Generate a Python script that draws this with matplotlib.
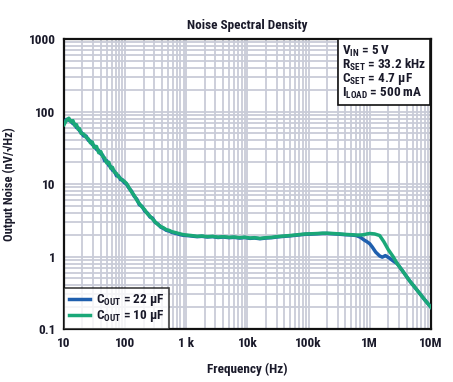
import matplotlib
matplotlib.use("Agg")
import matplotlib.pyplot as plt
import matplotlib.ticker as mticker
from matplotlib import font_manager

names = {f.name for f in font_manager.fontManager.ttflist}
narrow = [n for n in ["Liberation Sans Narrow", "DejaVu Sans Condensed", "Roboto Condensed"] if n in names]
FAM = narrow + ["Roboto", "DejaVu Sans"]
plt.rcParams["font.family"] = FAM
plt.rcParams["font.stretch"] = "condensed"
plt.rcParams["mathtext.fontset"] = "custom"
plt.rcParams["mathtext.rm"] = FAM[0] + ":bold"

# ── data ─────────────────────────────────────────────────────────
freq = [10, 11, 12, 13, 14, 15, 16, 17, 18, 19, 21, 23, 25, 27, 29, 31, 34,
        37, 40, 43, 46, 50, 54, 58, 62, 67, 72, 78, 84, 90, 96, 105, 115,
        127, 140, 155, 170, 190, 210, 230, 255, 280, 310, 345, 380, 420, 470,
        520, 580, 650, 720, 800, 900, 1000, 1200, 1500, 1800, 2200, 2700,
        3300, 4000, 5000, 6000, 7500, 9000, 11000, 13000, 16000, 20000, 25000,
        30000, 40000, 50000, 60000, 75000, 90000, 110000, 140000, 170000,
        200000, 250000, 300000, 400000, 500000, 600000]

noise_10uf = [66, 76, 81, 72, 75, 64, 66, 57, 58, 50, 49, 44, 42, 37, 38, 32,
              33, 27, 28, 24, 23, 19.5, 20, 16.5, 17, 14.5, 14, 12.5, 12,
              11.2, 11, 10.2, 9.0, 7.8, 7.0, 6.0, 5.4, 4.8, 4.4, 3.9, 3.6,
              3.3, 3.0, 2.75, 2.6, 2.5, 2.35, 2.3, 2.2, 2.15, 2.1, 2.05, 2.0,
              1.98, 1.95, 1.9, 1.92, 1.88, 1.9, 1.85, 1.88, 1.84, 1.86, 1.82,
              1.85, 1.8, 1.82, 1.78, 1.82, 1.84, 1.88, 1.92, 1.95, 1.98, 2.02,
              2.05, 2.06, 2.08, 2.1, 2.1, 2.08, 2.06, 2.02, 2.0, 1.98]
noise_22uf = [70, 78, 76, 74, 68, 67, 60, 60, 54, 52, 46, 46, 40, 39, 35, 34,
              30, 29, 26, 25, 21, 21, 18, 17.5, 15.5, 15, 13, 13, 11.5, 11.5,
              10.5, 10.0, 8.8, 8.0, 6.8, 6.2, 5.2, 4.9, 4.2, 4.0, 3.5, 3.4,
              2.95, 2.8, 2.55, 2.45, 2.3, 2.25, 2.15, 2.1, 2.05, 2.0, 1.96,
              1.95, 1.92, 1.88, 1.9, 1.86, 1.88, 1.83, 1.86, 1.82, 1.84, 1.8,
              1.83, 1.78, 1.8, 1.76, 1.8, 1.82, 1.86, 1.9, 1.93, 1.96, 2.0,
              2.03, 2.04, 2.06, 2.08, 2.08, 2.06, 2.04, 2.0, 1.98, 1.95]

# high-frequency tails
freq_tail_10uf = [700000, 800000, 900000, 1e6, 1.2e6, 1.45e6, 1.7e6, 2e6,
                  2.4e6, 2.8e6, 3.5e6, 4.5e6, 6e6, 8e6, 1e7]
tail_10uf = [1.98, 2.0, 2.05, 2.08, 2.05, 1.95, 1.6, 1.25, 1.0, 0.8, 0.62,
             0.46, 0.34, 0.25, 0.2]
freq_tail_22uf = [700000, 800000, 900000, 1e6, 1.1e6, 1.25e6, 1.45e6, 1.6e6,
                  1.8e6, 2.1e6, 2.5e6, 2.8e6, 3.5e6, 4.5e6, 6e6, 8e6, 1e7]
tail_22uf = [1.85, 1.7, 1.6, 1.5, 1.35, 1.15, 1.02, 0.98, 1.03, 0.95, 0.85,
             0.8, 0.62, 0.46, 0.34, 0.25, 0.2]

x_ticks = [10, 100, 1e3, 1e4, 1e5, 1e6, 1e7]
x_labels = ["10", "100", "1 k", "10k", "100k", "1M", "10M"]
y_ticks = [0.1, 1, 10, 100, 1000]
y_labels = ["0.1", "1", "10", "100", "1000"]

BLUE = "#1f5fae"
GREEN = "#1aa878"
TXT = "#1a1a2a"

fig = plt.figure(figsize=(4.53, 3.82), dpi=100)
ax = fig.add_axes([0.1413, 0.1387, 0.810, 0.759])

ax.plot(freq + freq_tail_22uf, noise_22uf + tail_22uf, color=BLUE, lw=2.5,
        label=r"C$_\mathrm{OUT}$ = 22 µF", zorder=3)
ax.plot(freq + freq_tail_10uf, noise_10uf + tail_10uf, color=GREEN, lw=2.5,
        label=r"C$_\mathrm{OUT}$ = 10 µF", zorder=4)

ax.set_xscale("log")
ax.set_yscale("log")
ax.set_xlim(10, 1e7)
ax.set_ylim(0.1, 1000)

ax.xaxis.set_minor_locator(mticker.LogLocator(base=10, subs=range(2, 10), numticks=20))
ax.yaxis.set_minor_locator(mticker.LogLocator(base=10, subs=range(2, 10), numticks=20))
ax.set_xticks(x_ticks)
ax.set_xticklabels(x_labels)
ax.set_yticks(y_ticks)
ax.set_yticklabels(y_labels)
ax.xaxis.set_minor_formatter(mticker.NullFormatter())
ax.yaxis.set_minor_formatter(mticker.NullFormatter())
ax.tick_params(which="both", length=0, pad=6, labelsize=9.5, colors=TXT)
for lab in ax.get_xticklabels() + ax.get_yticklabels():
    lab.set_fontweight("bold")

ax.grid(which="both", color="#c9ccd8", lw=1.3, zorder=0)
for s in ax.spines.values():
    s.set_linewidth(1.6)
    s.set_color("#111111")

ax.set_title("Noise Spectral Density", fontsize=9.5, fontweight="bold",
             color=TXT, pad=7)
ax.set_xlabel("Frequency (Hz)", fontsize=9.5, fontweight="bold", color=TXT,
              labelpad=9)
ax.set_ylabel("Output Noise (nV/√Hz)", fontsize=9, fontweight="bold",
              color=TXT, labelpad=9)

leg = ax.legend(loc="lower left", fontsize=9.5, frameon=True, fancybox=False,
                handlelength=1.6, handletextpad=0.5, borderpad=0.35,
                labelspacing=0.0, borderaxespad=0)
leg.get_frame().set_edgecolor("#111111")
leg.get_frame().set_linewidth(1.2)
for t in leg.get_texts():
    t.set_fontweight("bold")
    t.set_color(TXT)

cond = (r"V$_\mathrm{IN}$ = 5 V" + "\n" + r"R$_\mathrm{SET}$ = 33.2 kHz" + "\n"
        + r"C$_\mathrm{SET}$ = 4.7 µF" + "\n" + r"I$_\mathrm{LOAD}$ = 500 mA")
ax.text(0.757, 0.985, cond, transform=ax.transAxes, ha="left", va="top",
        fontsize=9.5, fontweight="bold", color=TXT, linespacing=0.85,
        zorder=6,
        bbox=dict(boxstyle="square,pad=0.3", fc="white", ec="#111111", lw=1.2))

fig.savefig("out.png", dpi=100)
